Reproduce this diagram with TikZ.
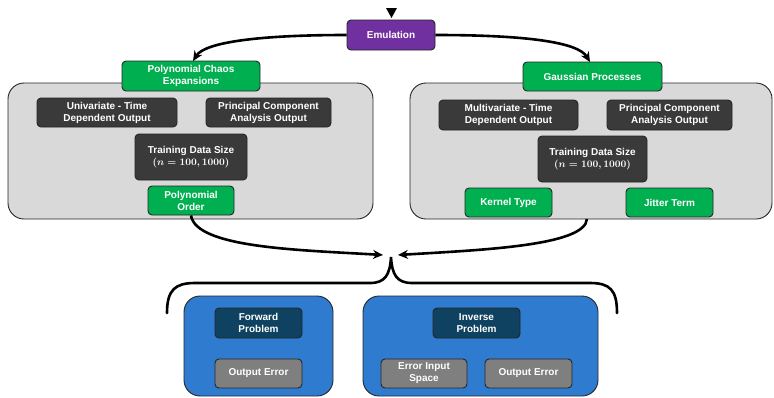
\documentclass[tikz,border=0pt]{standalone}
\usepackage{fontspec}
\setmainfont{Liberation Sans}
\usetikzlibrary{arrows.meta}
\definecolor{emupurple}{HTML}{7030A0}
\definecolor{bgreen}{HTML}{00B050}
\definecolor{darkbox}{HTML}{3A3A3A}
\definecolor{contgray}{HTML}{D9D9D9}
\definecolor{contblue}{HTML}{2E7BD0}
\definecolor{tealbox}{HTML}{0F4260}
\definecolor{midgray}{HTML}{7F7F7F}
\definecolor{edge}{HTML}{262626}
\begin{document}
\begin{tikzpicture}[x=1pt,y=-1pt,
  base/.style={draw=edge, line width=0.9pt, rounded corners=4pt, inner sep=0pt, align=center,
    text=white, font=\bfseries\fontsize{10}{12}\selectfont},
  purplebox/.style={base, fill=emupurple},
  greenbox/.style={base, fill=bgreen},
  darkbx/.style={base, fill=darkbox},
  graycont/.style={draw=edge, line width=0.9pt, rounded corners=16pt, fill=contgray, inner sep=0pt},
  bluecont/.style={draw=edge, line width=0.9pt, rounded corners=16pt, fill=contblue, inner sep=0pt},
  tealbx/.style={base, fill=tealbox},
  graybx/.style={base, fill=midgray},
  conn/.style={line width=2.6pt, -{Stealth[length=10pt,width=9pt]}},
]
\useasboundingbox (0,0) rectangle (774,397);
% containers
\node[graycont, minimum width=365pt, minimum height=136pt] (lc) at (190.5,151) {};
\node[graycont, minimum width=362pt, minimum height=136pt] (rc) at (591,151) {};
\node[bluecont, minimum width=149pt, minimum height=100pt] (lb) at (258.5,346) {};
\node[bluecont, minimum width=235pt, minimum height=100pt] (rb) at (480.5,346) {};
% top
\node[purplebox, minimum width=88pt, minimum height=30pt] (emu) at (391,35) {Emulation};
\fill (386,8) -- (397,8) -- (391.5,18) -- cycle;
% left side
\node[greenbox, minimum width=138pt, minimum height=30pt] (pce) at (191,76) {Polynomial Chaos\\Expansions};
\node[darkbx, minimum width=140pt, minimum height=29pt] (uni) at (107,112.5) {Univariate - Time\\Dependent Output};
\node[darkbx, minimum width=125pt, minimum height=29pt] (pcal) at (268.5,112.5) {Principal Component\\Analysis Output};
\node[darkbx, minimum width=112pt, minimum height=46pt] (trl) at (191,157) {Training Data Size\\{\boldmath$(n=100,1000)$}};
\node[greenbox, minimum width=86pt, minimum height=29pt] (po) at (191,200.5) {Polynomial\\Order};
% right side
\node[greenbox, minimum width=139pt, minimum height=29pt] (gp) at (592.5,76.5) {Gaussian Processes};
\node[darkbx, minimum width=139pt, minimum height=30pt] (multi) at (508.5,115) {Multivariate - Time\\Dependent Output};
\node[darkbx, minimum width=125pt, minimum height=30pt] (pcar) at (669.5,115) {Principal Component\\Analysis Output};
\node[darkbx, minimum width=109pt, minimum height=46pt] (trr) at (592.5,159) {Training Data Size\\{\boldmath$(n=100,1000)$}};
\node[greenbox, minimum width=87pt, minimum height=29pt] (kt) at (508.5,202.5) {Kernel Type};
\node[greenbox, minimum width=87pt, minimum height=29pt] (jt) at (669.5,202.5) {Jitter Term};
% bottom
\node[tealbx, minimum width=87pt, minimum height=30pt] (fp) at (258.5,323) {Forward\\Problem};
\node[graybx, minimum width=87pt, minimum height=29pt] (oe1) at (258.5,373.5) {Output Error};
\node[tealbx, minimum width=87pt, minimum height=30pt] (ip) at (476.5,323) {Inverse\\Problem};
\node[graybx, minimum width=86pt, minimum height=29pt] (eis) at (424,373.5) {Error Input\\Space};
\node[graybx, minimum width=87pt, minimum height=29pt] (oe2) at (528.5,373.5) {Output Error};
% connectors
\coordinate (pcein) at (193,61);
\coordinate (gpin) at (590,62);
\coordinate (mergeL) at (383,255);
\coordinate (mergeR) at (398,255);
\coordinate (rcout) at (587,219);
\draw[conn] (emu.west) .. controls (260,35) and (205,42) .. (pcein);
\draw[conn] (emu.east) .. controls (525,35) and (578,42) .. (gpin);
\draw[conn] (po.south) .. controls (196,248) and (300,250) .. (mergeL);
\draw[conn] (rcout) .. controls (585,246) and (480,250) .. (mergeR);
% brace
\draw[line width=2.6pt, line cap=round]
  (167,313) .. controls (167,290) and (175,283) .. (195,283)
  -- (370,283) .. controls (385,283) and (390,275) .. (391,257)
  .. controls (392,275) and (397,283) .. (412,283)
  -- (590,283) .. controls (610,283) and (617,290) .. (617,313);
\end{tikzpicture}
\end{document}
